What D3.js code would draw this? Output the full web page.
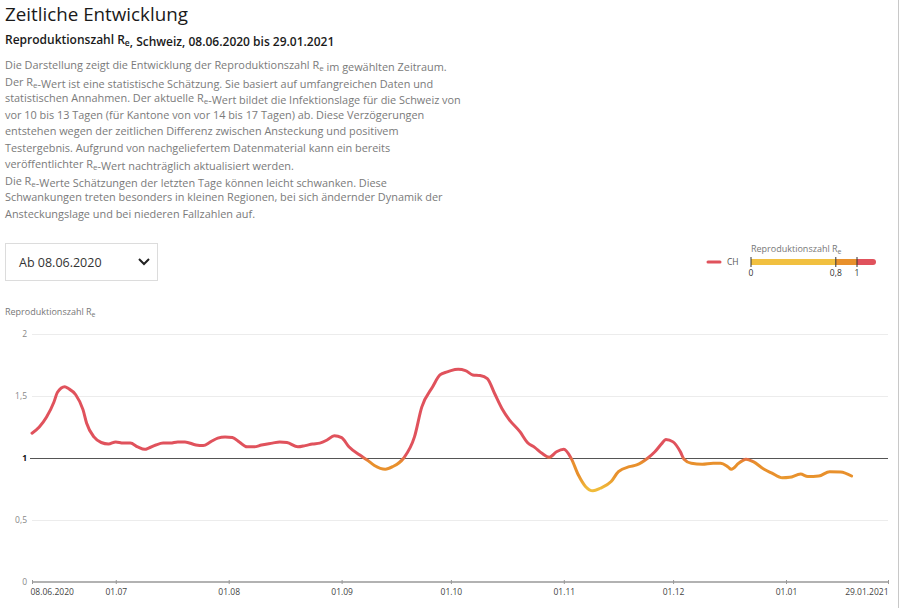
<!DOCTYPE html>
<html><head><meta charset="utf-8">
<script src="https://cdn.jsdelivr.net/npm/d3@7"></script>
<style>
html,body{margin:0;padding:0;background:#fff;}
svg{display:block;font-family:"Open Sans","Noto Sans",sans-serif;}
</style></head>
<body>
<svg id="c" width="900" height="608"></svg>
<script>
// ---- data ----
const dates = ["2020-06-08","2020-06-10","2020-06-12","2020-06-14","2020-06-15","2020-06-17","2020-06-18","2020-06-20","2020-06-22","2020-06-23","2020-06-25","2020-06-27","2020-06-29","2020-07-01","2020-07-03","2020-07-05","2020-07-07","2020-07-09","2020-07-10","2020-07-12","2020-07-14","2020-07-16","2020-07-18","2020-07-20","2020-07-23","2020-07-25","2020-07-27","2020-07-29","2020-07-31","2020-08-02","2020-08-04","2020-08-06","2020-08-08","2020-08-10","2020-08-13","2020-08-15","2020-08-17","2020-08-20","2020-08-22","2020-08-24","2020-08-26","2020-08-28","2020-08-30","2020-09-01","2020-09-03","2020-09-06","2020-09-08","2020-09-10","2020-09-13","2020-09-15","2020-09-18","2020-09-21","2020-09-23","2020-09-26","2020-09-28","2020-09-30","2020-10-01","2020-10-03","2020-10-05","2020-10-07","2020-10-09","2020-10-11","2020-10-13","2020-10-15","2020-10-17","2020-10-20","2020-10-22","2020-10-24","2020-10-26","2020-10-28","2020-10-30","2020-11-01","2020-11-03","2020-11-05","2020-11-07","2020-11-09","2020-11-11","2020-11-14","2020-11-16","2020-11-19","2020-11-21","2020-11-24","2020-11-26","2020-11-28","2020-11-29","2020-12-01","2020-12-03","2020-12-04","2020-12-06","2020-12-09","2020-12-12","2020-12-14","2020-12-16","2020-12-17","2020-12-19","2020-12-21","2020-12-23","2020-12-26","2020-12-28","2020-12-31","2021-01-02","2021-01-05","2021-01-07","2021-01-10","2021-01-13","2021-01-16","2021-01-19"];
const reCH = [1.20,1.25,1.33,1.45,1.53,1.575,1.56,1.51,1.39,1.28,1.17,1.125,1.113,1.13,1.12,1.12,1.09,1.07,1.08,1.105,1.12,1.12,1.13,1.13,1.105,1.10,1.13,1.16,1.17,1.165,1.127,1.09,1.09,1.105,1.12,1.13,1.125,1.09,1.10,1.113,1.12,1.145,1.18,1.165,1.09,1.024,0.984,0.94,0.91,0.93,0.998,1.17,1.41,1.575,1.67,1.695,1.705,1.715,1.705,1.67,1.665,1.64,1.52,1.40,1.31,1.21,1.125,1.086,1.038,1.006,1.05,1.07,0.998,0.863,0.769,0.736,0.756,0.81,0.89,0.93,0.944,0.998,1.05,1.12,1.15,1.13,1.05,0.99,0.957,0.949,0.957,0.957,0.93,0.909,0.957,0.99,0.97,0.909,0.88,0.84,0.844,0.87,0.85,0.855,0.89,0.887,0.855];
const yTicks = [0, 0.5, 1, 1.5, 2];
const yTickLabels = ["0", "0,5", "1", "1,5", "2"];
const xTickDates = ["2020-06-08","2020-07-01","2020-08-01","2020-09-01","2020-10-01","2020-11-01","2020-12-01","2021-01-01","2021-01-29"];
const xTickLabels = ["08.06.2020","01.07","01.08","01.09","01.10","01.11","01.12","01.01","29.01.2021"];
const legendStops = [0, 0.8, 1];
const legendStopLabels = ["0", "0,8", "1"];
const paragraph = [
  "Die Darstellung zeigt die Entwicklung der Reproduktionszahl R{e} im gewählten Zeitraum.",
  "Der R{e}-Wert ist eine statistische Schätzung. Sie basiert auf umfangreichen Daten und",
  "statistischen Annahmen. Der aktuelle R{e}-Wert bildet die Infektionslage für die Schweiz von",
  "vor 10 bis 13 Tagen (für Kantone von vor 14 bis 17 Tagen) ab. Diese Verzögerungen",
  "entstehen wegen der zeitlichen Differenz zwischen Ansteckung und positivem",
  "Testergebnis. Aufgrund von nachgeliefertem Datenmaterial kann ein bereits",
  "veröffentlichter R{e}-Wert nachträglich aktualisiert werden.",
  "Die R{e}-Werte Schätzungen der letzten Tage können leicht schwanken. Diese",
  "Schwankungen treten besonders in kleinen Regionen, bei sich ändernder Dynamik der",
  "Ansteckungslage und bei niederen Fallzahlen auf."
];

const RED = "#e0525c", ORANGE = "#e8902c", YELLOW = "#f1c040";
const parse = d3.timeParse("%Y-%m-%d");
const svg = d3.select("#c");

// helper for R_e subscripts
function richText(sel, str, subSize) {
  const parts = str.split("{e}");
  parts.forEach((p, i) => {
    sel.append("tspan").text(p);
    if (i < parts.length - 1) {
      sel.append("tspan").attr("font-size", subSize).attr("dy", 2).text("e");
      sel.append("tspan").attr("dy", -2).text("");
    }
  });
}

// right border
svg.append("line").attr("x1", 898.5).attr("x2", 898.5).attr("y1", 0).attr("y2", 608)
  .attr("stroke", "#c8c8c8").attr("stroke-width", 1);

// title
svg.append("text").attr("x", 5).attr("y", 21).attr("font-size", 18.8).attr("fill", "#1a1a1a")
  .text("Zeitliche Entwicklung");
const sub = svg.append("text").attr("x", 5).attr("y", 44).attr("font-size", 12)
  .attr("font-weight", 600).attr("fill", "#1a1a1a");
richText(sub, "Reproduktionszahl R{e}, Schweiz, 08.06.2020 bis 29.01.2021", 8.5);

paragraph.forEach((line, i) => {
  const t = svg.append("text").attr("x", 5).attr("y", 69 + i * 16.5)
    .attr("font-size", 10.9).attr("fill", "#7a7a7a");
  richText(t, line, 8);
});

// dropdown
svg.append("rect").attr("x", 5.5).attr("y", 243.5).attr("width", 152).attr("height", 37)
  .attr("fill", "#fff").attr("stroke", "#dcdcdc");
svg.append("text").attr("x", 19).attr("y", 267).attr("font-size", 12.5).attr("fill", "#333")
  .text("Ab 08.06.2020");
svg.append("path").attr("d", "M139,259 L144,264 L149,259").attr("fill", "none")
  .attr("stroke", "#222").attr("stroke-width", 2);

// legend
svg.append("line").attr("x1", 708).attr("x2", 720).attr("y1", 262).attr("y2", 262)
  .attr("stroke", RED).attr("stroke-width", 3).attr("stroke-linecap", "round");
svg.append("text").attr("x", 727).attr("y", 265).attr("font-size", 8.5).attr("fill", "#555").text("CH");
const lt = svg.append("text").attr("x", 751).attr("y", 252).attr("font-size", 9).attr("fill", "#777");
richText(lt, "Reproduktionszahl R{e}", 7);
const lx = d3.scaleLinear().domain([0, 1]).range([751, 857]);
svg.append("line").attr("x1", lx(1)).attr("x2", 873).attr("y1", 262).attr("y2", 262)
  .attr("stroke", RED).attr("stroke-width", 6).attr("stroke-linecap", "round");
svg.append("rect").attr("x", lx(0)).attr("y", 259).attr("width", lx(0.8) - lx(0)).attr("height", 6).attr("fill", YELLOW);
svg.append("rect").attr("x", lx(0.8)).attr("y", 259).attr("width", lx(1) - lx(0.8)).attr("height", 6).attr("fill", ORANGE);
legendStops.forEach((s, i) => {
  svg.append("line").attr("x1", lx(s)).attr("x2", lx(s)).attr("y1", 257).attr("y2", 267)
    .attr("stroke", "#333").attr("stroke-width", 1);
  svg.append("text").attr("x", lx(s)).attr("y", 276).attr("font-size", 8.5).attr("fill", "#333")
    .attr("text-anchor", "middle").text(legendStopLabels[i]);
});

// y-axis title
const yt = svg.append("text").attr("x", 5).attr("y", 315).attr("font-size", 9).attr("fill", "#777");
richText(yt, "Reproduktionszahl R{e}", 7);

// scales
const x = d3.scaleTime().domain([parse("2020-06-08"), parse("2021-01-29")]).range([32, 888]);
const y = d3.scaleLinear().domain([0, 2]).range([582, 334]);

// gridlines
const yAxis = d3.axisLeft(y).tickValues(yTicks).tickSize(-(888 - 24)).tickFormat((d, i) => yTickLabels[i]);
const gy = svg.append("g").attr("transform", "translate(24,0)").call(yAxis);
gy.select(".domain").remove();
gy.selectAll(".tick line").attr("stroke", d => d === 1 ? "#555" : "#ececec")
  .attr("stroke-width", 1.2)
  .attr("x1", d => d === 1 ? 6 : 8);
gy.selectAll(".tick text").attr("x", 3).attr("font-size", 8.5)
  .attr("fill", d => d === 1 ? "#111" : "#888").attr("font-weight", d => d === 1 ? 700 : 400)
  .attr("font-family", "'Open Sans','Noto Sans',sans-serif");
gy.selectAll(".tick").filter(d => d === 0).select("line").remove();

// gradient for the line
const g0 = y(2), g1 = y(0.7);
const off = v => (y(v) - g0) / (g1 - g0);
const grad = svg.append("defs").append("linearGradient").attr("id", "reGrad")
  .attr("gradientUnits", "userSpaceOnUse").attr("x1", 0).attr("x2", 0).attr("y1", g0).attr("y2", g1);
[[1.02, RED], [0.965, ORANGE], [0.86, ORANGE], [0.75, "#f0bb3a"]].forEach(([v, c]) => {
  grad.append("stop").attr("offset", off(v)).attr("stop-color", c);
});

// x-axis
const xAxis = d3.axisBottom(x).tickValues(xTickDates.map(parse)).tickSize(3)
  .tickFormat((d, i) => xTickLabels[i]);
const gx = svg.append("g").attr("transform", "translate(0,582)").call(xAxis);
gx.select(".domain").attr("stroke", "#999").attr("stroke-width", 1.5).attr("d", "M32,0H888");
gx.selectAll(".tick line").attr("stroke", "#999").attr("y1", -2).attr("y2", 2);
gx.selectAll(".tick text").attr("y", 7).attr("font-size", 8.5).attr("fill", "#444")
  .attr("font-family", "'Open Sans','Noto Sans',sans-serif")
  .attr("text-anchor", (d, i) => i === 0 ? "start" : (i === xTickDates.length - 1 ? "end" : "middle"))
  .attr("dx", (d, i) => i === 0 ? -2 : 0);

// line
const data = dates.map((d, i) => ({ date: parse(d), v: reCH[i] }));
const line = d3.line().x(d => x(d.date)).y(d => y(d.v)).curve(d3.curveMonotoneX);
svg.append("path").datum(data).attr("d", line).attr("fill", "none")
  .attr("stroke", "url(#reGrad)").attr("stroke-width", 3).attr("stroke-linejoin", "round").attr("stroke-linecap", "round");
</script>
</body></html>
